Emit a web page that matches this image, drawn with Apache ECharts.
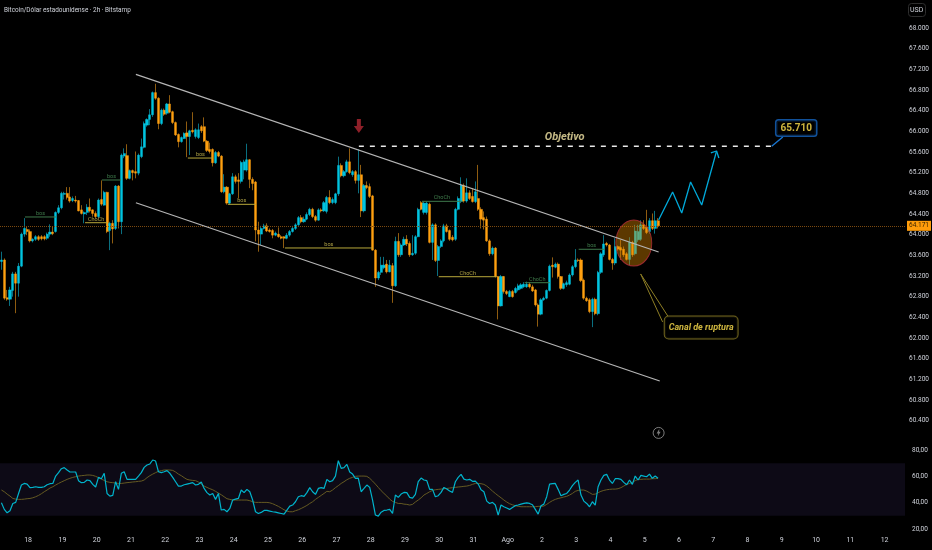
<!DOCTYPE html>
<html><head><meta charset="utf-8">
<style>html,body{margin:0;padding:0;background:#000}#c{width:932px;height:550px}</style>
<script src="https://cdn.jsdelivr.net/npm/echarts@6/dist/echarts.min.js"></script>
</head><body><div id="c"></div>
<script>
const opens=[63480,63510,62780,62750,62920,63240,63060,63390,64010,64100,
64060,63880,63910,63960,63960,63960,63930,64010,64050,64060,
64430,64520,64780,64800,64730,64660,64670,64660,64480,64400,
64430,64530,64480,64410,64350,64680,64570,64820,64080,64220,
64120,64940,64250,65520,65530,65090,65240,65220,65190,65510,
65690,66120,66230,66320,66750,66640,66150,66410,66350,66530,
66380,66170,65940,65800,65860,65970,65900,66020,65900,65880,
66090,66090,65810,65650,65650,65390,65590,65520,64830,64920,
64610,64790,65120,65060,65030,65250,65250,65450,65070,65020,
64090,64010,64120,64170,64090,64080,63990,64010,63960,63960,
63930,63990,64060,64120,64190,64330,64250,64300,64390,64490,
64350,64280,64480,64460,64450,64720,64620,64620,64790,65340,
65140,65220,65410,65160,65220,65050,65160,64460,64950,64930,
64750,63700,63160,63270,63360,63430,63280,63400,63010,63870,
63610,63800,63910,63830,63610,63640,63960,64620,64430,64430,
64590,63850,64190,63500,63770,63880,64170,64080,63950,63910,
64490,64640,64950,64650,64810,64740,64640,64700,64490,64330,
64300,63880,63630,63740,63190,62620,63190,62900,62800,62900,
62880,62930,62960,62990,62990,63040,62990,62930,62640,62460,
62740,62770,62920,63410,63370,63430,63190,62960,63030,63040,
63220,63380,63510,63510,63120,62770,62740,62510,62750,62470,
63270,63610,63830,63800,63520,63450,63770,63750,63720,63630,
63520,63850,63630,63900,63910,64190,64150,64060,64270,64120,64270];
const closes=[63510,62770,62750,62930,63240,63060,63390,64010,64120,64060,
63880,63910,63960,63910,63920,63920,64010,64050,64020,64430,
64520,64800,64800,64720,64650,64700,64650,64460,64410,64430,
64530,64460,64410,64350,64670,64590,64820,64060,64220,64110,
64940,64250,65540,65570,65090,65240,65200,65190,65540,65700,
66150,66230,66320,66750,66640,66150,66410,66330,66530,66370,
66170,65930,65800,65880,65960,65900,66010,65990,66030,66030,
66010,65810,65630,65610,65390,65590,65520,64830,64920,64610,
64790,65120,65030,65030,65400,65410,65450,65070,64990,64090,
64010,64120,64170,64070,64060,63990,64030,63960,63930,63930,
63990,64060,64120,64190,64330,64250,64300,64390,64490,64350,
64280,64480,64460,64620,64720,64620,64680,64790,65340,65140,
65220,65410,65200,65220,65050,65160,64460,64950,64910,64740,
63700,63160,63270,63410,63410,63280,63410,63010,63870,63610,
63800,63910,63820,63610,63640,63960,64490,64490,64610,64610,
63850,64190,63500,63770,63880,64170,64060,63910,63900,64490,
64700,64960,64650,64810,64700,64640,64830,64490,64300,64280,
63880,63630,63740,63190,62620,63190,62900,62860,62900,62800,
62960,63010,63030,63040,63040,62990,62910,62640,62460,62740,
62770,62920,63390,63380,63430,63190,62960,63050,63070,63220,
63380,63510,63500,63110,62770,62720,62510,62750,62470,63270,
63630,63820,63800,63520,63450,63770,63720,63700,63610,63520,
63850,63610,64070,64060,64190,64120,64040,64270,64120,64270,64171];
const highs=[63670,63540,62930,62990,63280,63280,63450,64040,64320,64150,
64100,63930,63990,63990,63990,63990,64040,64200,64150,64450,
64570,64830,64830,64920,64920,64740,64750,64670,64570,64450,
64590,64700,64490,64450,64700,65050,64850,64830,64250,64280,
64960,64960,65570,65670,65750,65260,65260,65610,65570,65860,
66190,66250,66430,66770,66920,66660,66440,66440,66550,66700,
66400,66190,65960,65900,65980,66190,66030,66370,66060,66150,
66120,66270,65830,65780,65670,65620,65620,65540,65170,64940,
64810,65190,65160,65190,65430,65450,65760,65460,65110,65040,
64250,64170,64210,64220,64120,64110,64060,64140,63990,63970,
64030,64090,64170,64220,64360,64380,64350,64430,64520,64520,
64380,64510,64510,64650,64750,64860,64720,64810,65510,65380,
65250,65450,65670,65250,65250,65650,65350,64980,65030,64990,
64770,63720,63300,63570,63570,63510,63510,63450,63960,64030,
63830,63960,63990,63870,63990,63990,64520,64650,64640,64640,
64620,64220,64220,63800,63910,64210,64210,64100,63990,64520,
64740,65110,64990,65090,64860,64900,65030,65350,64530,64450,
64350,63910,63770,63760,63200,63220,63200,62930,62930,62930,
62990,63050,63060,63080,63090,63080,63030,62950,62670,62770,
62800,62940,63420,63560,63460,63460,63200,63070,63110,63250,
63410,63720,63540,63540,63150,62800,62770,62780,62780,63300,
63660,63990,63860,63820,63550,63930,63790,63900,63770,63660,
63950,63880,64190,64190,64280,64280,64480,64320,64410,64460,64320];
const lows=[63320,62740,62720,62620,62800,62480,62800,63370,63960,63990,
63850,63850,63880,63880,63890,63890,63900,63960,63990,64040,
64400,64490,64680,64680,64620,64630,64620,64450,64390,64220,
64380,64430,64350,64320,64320,64560,64560,64030,63700,63830,
64090,64120,64010,65480,65060,65070,65050,65090,65150,65480,
65670,66090,66120,66280,66610,66040,66120,66300,66320,66350,
66140,65910,65690,65780,65850,65500,65540,65960,65860,65850,
65970,65790,65600,65570,65320,65370,65500,64810,64800,64580,
64580,64770,64990,64700,64990,65070,65220,64900,64860,63870,
63670,63800,64100,64050,64040,63930,63970,63940,63910,63740,
63910,63960,64040,64090,64170,64220,64230,64280,64360,64320,
64250,64270,64430,64440,64410,64590,64590,64590,64750,65110,
65110,65200,65170,65120,64990,64800,64340,64430,64880,64710,
63690,62990,63120,63220,63330,63250,63270,62680,62990,63570,
63570,63780,63780,63570,63590,63610,63950,64470,64390,64390,
63830,63510,63470,63200,63740,63850,64040,63880,63870,63880,
64470,64610,64620,64620,64670,64620,64610,64460,64120,64100,
63860,63590,63600,63170,62360,62610,62860,62830,62790,62780,
62860,62900,62940,62970,62970,62960,62890,62610,62220,62440,
62720,62750,62900,63170,63350,63150,62930,62940,62990,63020,
63190,63350,63470,63080,62740,62700,62480,62210,62440,62440,
63240,63570,63770,63500,63320,63410,63690,63510,63570,63500,
63410,63570,63600,63860,63880,64090,64010,64020,64090,64020,64120];
const rsiValues=[39.9,34.9,32.3,33.9,39.4,40.2,47,53.4,54.6,54.1,
51.4,51.6,52.1,51.6,51.6,52.1,53.6,54.4,54.6,60.2,
62.8,65.8,66.6,64.8,63.3,63.3,63.3,56.7,55.2,55.4,
57.2,56.7,53.9,51.9,59.2,58.2,62.3,47,45,45.5,
55.9,50.1,62.3,63.5,57.7,57.7,57.7,57.7,60.2,62.8,
66.8,68.6,69.4,72.4,71.6,63.5,62.8,63.5,64.3,62.3,
59.2,55.9,52.6,52.6,53.6,54.1,54.6,55.2,53.4,53.9,
55.7,50.8,47.6,45.8,47,42.5,47,34.4,34.9,33.1,
35.6,42,42.7,43.2,49.6,47.6,50.1,48.3,42,33.1,
31.8,32.6,34.1,34.1,33.6,33.1,32.8,32.3,31.8,31.3,
34.4,37.4,38.2,40.7,44.5,45.3,44.8,47.6,51.4,48.3,
46.3,50.8,51.4,50.8,57.7,55.9,56.7,60.2,71.9,66.1,
66.6,69.1,63.3,61.7,58.5,58.7,48.3,50.8,53.4,51.6,
42,30.6,29.8,32.8,34.1,34.4,34.9,31.8,45.8,44,
46.5,47.8,47.6,44,43.5,46.3,55.9,58.7,57.2,56.7,
50.1,50.1,44.5,45.3,47.8,51.6,50.3,48.8,47.8,55.9,
59.2,61.5,57.9,57.2,57.7,56.2,56.4,54.1,49.8,48.3,
41.2,39.4,40.2,38.2,30.6,38.2,36.9,35.9,34.9,36.4,
37.7,38.2,38.9,39.4,39.9,39.4,38.4,34.9,31.3,37.7,
38.9,44.5,54.1,54.4,54.6,50.1,45.3,46.3,47,49.6,
52.9,55.4,57.2,45.8,41.2,39.4,36.9,40.7,38.2,52.1,
57.2,60.7,61.5,57.2,54.6,58.2,58.2,57.7,55.4,53.6,
57.2,53.9,60.2,57.2,60.7,60.2,59.7,61.7,58.5,60.2,58.5];
const rsiAverage=[49.6,48.3,46.5,45,43.2,42.7,42.5,42.5,42.7,43,
43.2,43.7,44.5,45.5,46.8,48.3,49.6,51.1,52.1,53.4,
54.6,55.7,56.7,57.7,58.5,59.2,59.7,60.2,60.5,60.7,
61,61,60.7,60,59,57.9,56.9,55.9,55.4,55.2,
54.9,54.6,54.6,54.9,55.2,55.4,55.7,55.9,56.2,56.4,
57.2,59,60.5,61.7,62.8,63.8,64.3,64.8,64.8,64.8,
64.5,63.3,61.7,60.5,59,57.7,57.2,56.9,56.7,55.7,
54.1,52.6,51.6,50.6,49.8,48.6,47.3,46,44.5,43,
42.5,42,42,42,42,42,42,41.5,40.7,40.2,
40.2,40.2,40.2,40.2,39.9,39.2,38.2,37.2,35.9,34.6,
33.6,33.1,33.1,33.9,34.6,35.6,36.7,37.9,39.4,40.7,
42.5,44,45.5,47,48.6,48.3,49.6,51.4,52.9,54.6,
55.9,57.4,58.5,59.2,60,60.2,60.2,60.2,60,58.5,
56.4,54.1,51.6,49.1,47,45,42.7,41,40.2,39.4,
39.4,38.9,38.7,38.2,38.7,40.5,42,43.7,45.8,47,
48.3,49.3,49.8,50.1,50.3,50.6,50.8,51.1,51.4,51.6,
51.9,52.1,52.4,52.6,53.1,53.9,54.6,54.6,54.4,53.9,
52.6,50.8,48.8,47,45.3,43.7,42,40.5,39.2,38.4,
37.7,37.2,36.9,36.9,36.9,36.9,36.9,36.9,37.2,37.2,
37.4,38.7,40.2,41.5,42.5,43.2,43.7,44.3,44.8,45.8,
47,48.6,49.3,49.6,49.6,48.8,47.6,46.3,46.5,47.6,
48.6,49.3,49.8,50.1,50.3,50.3,50.6,51.4,52.6,53.9,
54.6,55.4,56.7,57.7,57.7,57.9,57.9,57.9,58.2,58.2,58.5];
const dayLabels=['18','19','20','21','22','23','24','25','26','27','28','29','30','31','Ago','2','3','4','5','6','7','8','9','10','11','12'];
const structureLines=[
 {from:8.75,to:19.6,price:64342,text:'bos',color:'#3f7a4c'},
 {from:35.7,to:42.4,price:65058,text:'bos',color:'#3f7a4c'},
 {from:29.8,to:37.5,price:64231,text:'ChoCh',color:'#b8a83a'},
 {from:65.8,to:74.6,price:65483,text:'bos',color:'#b8a83a'},
 {from:79.8,to:89.6,price:64587,text:'bos',color:'#b8a83a'},
 {from:99.8,to:130.6,price:63742,text:'bos',color:'#b8a83a'},
 {from:147.8,to:161.8,price:64645,text:'ChoCh',color:'#3f7a4c'},
 {from:153.7,to:174,price:63186,text:'ChoCh',color:'#b8a83a'},
 {from:183.8,to:192.6,price:63070,text:'ChoCh',color:'#3f7a4c'},
 {from:202.7,to:211.8,price:63717,text:'bos',color:'#3f7a4c'}
];
const upperChannel=[[47.6,67103],[230.7,63664]];
const lowerChannel=[[47.6,64618],[231.1,61168]];
const targetLine=[[125.7,65710],[270.3,65710]];
const targetPointer=[[270.3,65710],[274.2,65890]];
const projection=[[230.7,64284],[235.6,64826],[238.8,64419],[241.9,65019],[245.8,64574],[251,65619]];
const projectionHead=[[249,65581],[251,65619],[251.8,65484]];
const calloutA=[[224.4,63239],[232.1,62310]];
const calloutB=[[224.4,63239],[233.9,62426]];
const lastPrice=64171;

const FONT='Roboto,sans-serif';
const TXT='#d1d4dc';
const BARS=317;
const cats=[];for(let i=0;i<BARS;i++){const k=(i-9)/12;cats.push(Number.isInteger(k)&&dayLabels[k]?dayLabels[k]:'');}
const wickData=opens.map((o,i)=>[o,closes[i],lows[i],highs[i]]);
const bodyData=opens.map((o,i)=>[o,closes[i],Math.min(o,closes[i]),Math.max(o,closes[i])]);
const CLEAR='rgba(0,0,0,0)';
const line=(data,color,width,extra)=>Object.assign({type:'line',xAxisIndex:2,yAxisIndex:0,data,symbol:'none',silent:true,z:6,
  lineStyle:{color,width},animation:false},extra||{});
const point=(val,opt)=>Object.assign({type:'scatter',xAxisIndex:2,yAxisIndex:0,silent:true,animation:false,z:8,data:[val]},opt);
const series=[
 {type:'candlestick',xAxisIndex:0,yAxisIndex:0,data:wickData,barWidth:1,z:2,silent:true,
  itemStyle:{color:'#0a6f80',color0:'#8f5c10',borderColor:'#0a6f80',borderColor0:'#8f5c10',borderColorDoji:'#8f5c10',borderWidth:1}},
 {type:'candlestick',xAxisIndex:0,yAxisIndex:0,data:bodyData,barWidth:2.6,z:3,silent:true,
  itemStyle:{color:'#00c4e0',color0:'#ffa010',borderColor:'#00c4e0',borderColor0:'#ffa010',borderColorDoji:'#ffa010',borderWidth:0.4},
  markLine:{silent:true,symbol:'none',animation:false,precision:3,
   lineStyle:{type:'dotted',color:'#7c4a10',width:1},
   label:{position:'end',distance:2,formatter:()=>(lastPrice/1000).toFixed(3),color:'#3a2500',backgroundColor:'#ff9c0a',padding:[2,2,1,2],fontSize:6.5,fontFamily:FONT},
   data:[{yAxis:lastPrice}]}},
 line(upperChannel,'#b6b6b6',1.2),
 line(lowerChannel,'#b6b6b6',1.2),
 line(targetLine,'#e8e8e8',1.4,{lineStyle:{color:'#e8e8e8',width:1.4,type:[5,6]}}),
 line(targetPointer,'#1976d2',1.4),
 line(projection,'#00a8d8',1.3),
 line(projectionHead,'#00a8d8',1.3),
 line(calloutA,'#8f7f25',1),
 line(calloutB,'#8f7f25',1),
 point([222,63839],{symbol:'circle',symbolSize:[36,46],z:5,itemStyle:{color:'rgba(222,134,0,0.52)',borderColor:'#b5303a',borderWidth:1}}),
 point([125.7,66103],{symbol:'path://M3,0 L7,0 L7,6 L10,6 L5,12 L0,6 L3,6 Z',symbolSize:[10,14],itemStyle:{color:'#b22833'}}),
 point([197.8,65890],{symbolSize:1,itemStyle:{color:CLEAR},label:{show:true,position:'inside',formatter:'Objetivo',color:'#f6e9a8',fontSize:11,fontStyle:'italic',fontWeight:'bold',fontFamily:FONT}}),
 point([278.9,66064],{symbolSize:1,itemStyle:{color:CLEAR},z:9,label:{show:true,position:'inside',formatter:'65.710',color:'#ffe14d',fontSize:10,fontWeight:'bold',fontFamily:FONT,backgroundColor:'#000',borderColor:'#1565c0',borderWidth:1.5,borderRadius:2,padding:[3,4,2,4]}}),
 point([245.6,62204],{symbolSize:1,itemStyle:{color:CLEAR},z:9,label:{show:true,position:'inside',formatter:'Canal de ruptura',color:'#ffe14d',fontSize:9,fontStyle:'italic',fontWeight:'bold',fontFamily:FONT,backgroundColor:'#000',borderColor:'#8f7f25',borderWidth:1,borderRadius:4,padding:[7,4,6,4]}}),
 point([230.7,60162],{symbol:'circle',symbolSize:11,itemStyle:{color:CLEAR,borderColor:'#9a9a9a',borderWidth:1}}),
 point([230.7,60162],{symbol:'path://M5,0 L1,7 L4,7 L3,12 L8,4 L5,4 L6,0 Z',symbolSize:[4,7],itemStyle:{color:'#9a9a9a'}}),
 {type:'line',xAxisIndex:3,yAxisIndex:1,data:[[0,50]],symbol:'none',silent:true,z:1,lineStyle:{width:0},
  markArea:{silent:true,itemStyle:{color:'#0d0a16'},data:[[{xAxis:0,yAxis:30},{xAxis:BARS,yAxis:70}]]}},
 {type:'line',xAxisIndex:1,yAxisIndex:1,data:rsiValues,symbol:'none',silent:true,z:4,lineStyle:{color:'#00b4cc',width:1.2}},
 {type:'line',xAxisIndex:1,yAxisIndex:1,data:rsiAverage,symbol:'none',silent:true,z:3,lineStyle:{color:'#655a22',width:1}}
];
structureLines.forEach(s=>{
 series.push(line([[s.from,s.price],[s.to,s.price]],s.color,1,{z:5}));
 series.push(point([(s.from+s.to)/2,s.price],{symbolSize:1,itemStyle:{color:CLEAR},z:7,label:{show:true,position:'top',distance:0,formatter:s.text,color:s.color==='#3f7a4c'?'#4f9a5e':'#d6c555',fontSize:5.5,fontFamily:FONT}}));
});
const chart=echarts.init(document.getElementById('c'),null,{renderer:'canvas'});
chart.setOption({
 animation:false,backgroundColor:'#000',
 title:[
  {text:'Bitcoin/Dólar estadounidense · 2h · Bitstamp',left:4,top:7,padding:0,textStyle:{color:'#d1d4dc',fontSize:6.4,fontWeight:'normal',fontFamily:FONT}},
  {text:'USD',left:908,top:3,padding:[4,2,3,2],borderColor:'#2e2e2e',borderWidth:1,borderRadius:3,textStyle:{color:'#d1d4dc',fontSize:7,fontWeight:'normal',fontFamily:FONT}}
 ],
 grid:[{left:0,top:28,width:905,height:413.3,outerBoundsMode:'none'},{left:0,top:450,width:905,height:79,outerBoundsMode:'none'}],
 xAxis:[
  {type:'category',gridIndex:0,data:cats,show:false,boundaryGap:true},
  {type:'category',gridIndex:1,data:cats,boundaryGap:true,axisLine:{show:false},axisTick:{show:false},splitLine:{show:false},
   axisLabel:{interval:0,margin:8,color:TXT,fontSize:7,padding:[0,0,0,2],fontFamily:FONT,hideOverlap:false}},
  {type:'value',gridIndex:0,min:0,max:BARS,show:false,splitLine:{show:false}},
  {type:'value',gridIndex:1,min:0,max:BARS,show:false,splitLine:{show:false}}
 ],
 yAxis:[
  {type:'value',gridIndex:0,position:'right',min:60000,max:68000,interval:400,axisLine:{show:false},axisTick:{show:false},splitLine:{show:false},
   axisLabel:{margin:4,align:'left',color:TXT,fontSize:6.5,fontFamily:FONT,formatter:v=>v===60000?'':(v/1000).toFixed(3)}},
  {type:'value',gridIndex:1,position:'right',min:20,max:80,interval:20,axisLine:{show:false},axisTick:{show:false},splitLine:{show:false},
   axisLabel:{margin:7,align:'left',color:TXT,fontSize:6.5,fontFamily:FONT,formatter:v=>v.toFixed(2).replace('.',',')}}
 ],
 tooltip:{show:false},
 series
});
</script></body></html>
